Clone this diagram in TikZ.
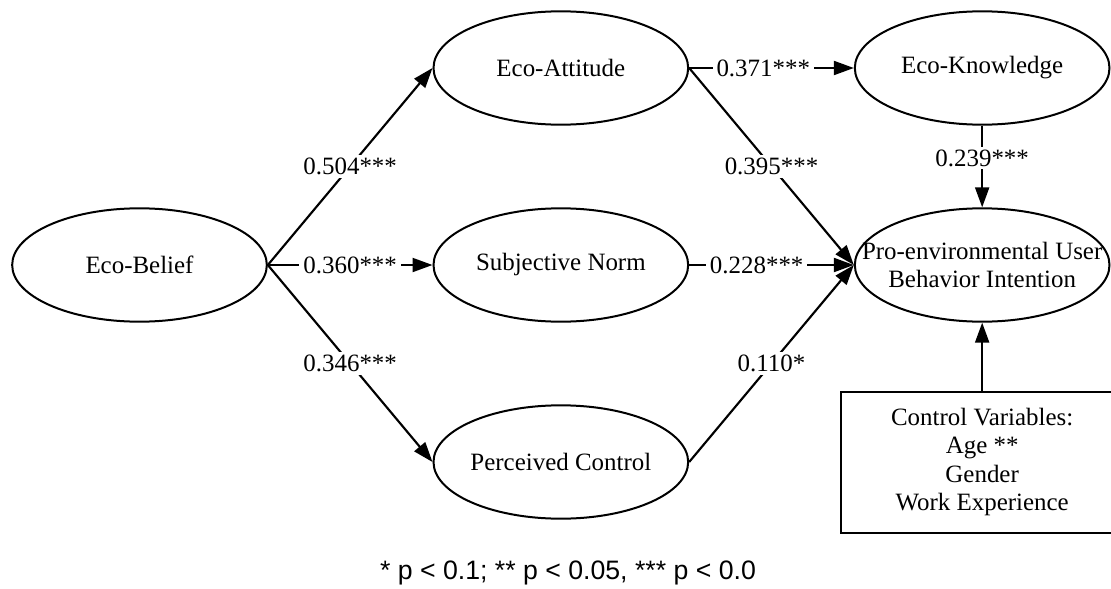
\documentclass[tikz,border=0pt]{standalone}
\usepackage{fontspec}
\setmainfont{Liberation Serif}
\newfontfamily\notefont{Liberation Sans}
\usepackage{tikz}
\usetikzlibrary{arrows.meta,shapes.geometric,positioning}

\tikzset{
  construct/.style={draw, ellipse, line width=1.5pt, minimum width=191pt,
    minimum height=85pt, inner xsep=-30pt, inner ysep=-10pt, align=center},
  ctrlbox/.style={draw, rectangle, line width=1.5pt, minimum width=211.5pt,
    minimum height=105.75pt, align=center},
  effect/.style={-{Triangle[length=15pt,width=10.5pt]}, line width=1.6pt},
  coef/.style={fill=white, inner xsep=3pt, inner ysep=2pt}
}

\begin{document}
\begin{tikzpicture}[x=0.75pt, y=-0.75pt, node distance=147.75pt and 316pt, on grid,
  every node/.style={font=\fontsize{18.7}{21.3}\selectfont}]
  \clip (0,0) rectangle (1111,589);

  % constructs
  \node[construct] (belief) at (139.5,265) {Eco-Belief};
  \node[construct, above right=of belief] (attitude) {Eco-Attitude};
  \node[construct, right=of belief] (norm) {Subjective Norm};
  \node[construct, below right=of belief] (control) {Perceived Control};
  \node[construct, right=of attitude] (knowledge) {Eco-Knowledge};
  \node[construct, right=of norm] (intention) {Pro-environmental User\\Behavior Intention};
  \node[ctrlbox, right=of control] (covars) {Control Variables:\\Age **\\Gender\\Work Experience};

  % paths
  \draw[effect] (belief.east) -- node[coef] {0.504***} (attitude.west);
  \draw[effect] (belief.east) -- node[coef] {0.360***} (norm.west);
  \draw[effect] (belief.east) -- node[coef] {0.346***} (control.west);
  \draw[effect] (attitude.east) -- node[coef, pos=0.45] {0.371***} (knowledge.west);
  \draw[effect] (attitude.east) -- node[coef] {0.395***} (intention.west);
  \draw[effect] (norm.east) -- node[coef, pos=0.41] {0.228***} (intention.west);
  \draw[effect] (control.east) -- node[coef] {0.110*} (intention.west);
  \draw[effect] (knowledge.south) -- node[coef, pos=0.4] {0.239***} (intention.north);
  \draw[effect] (covars.north) -- (intention.south);

  \node[font=\notefont\fontsize{20}{24}\selectfont] (note) at (568,573)
    {* p < 0.1; ** p < 0.05, *** p < 0.0};
\end{tikzpicture}
\end{document}
